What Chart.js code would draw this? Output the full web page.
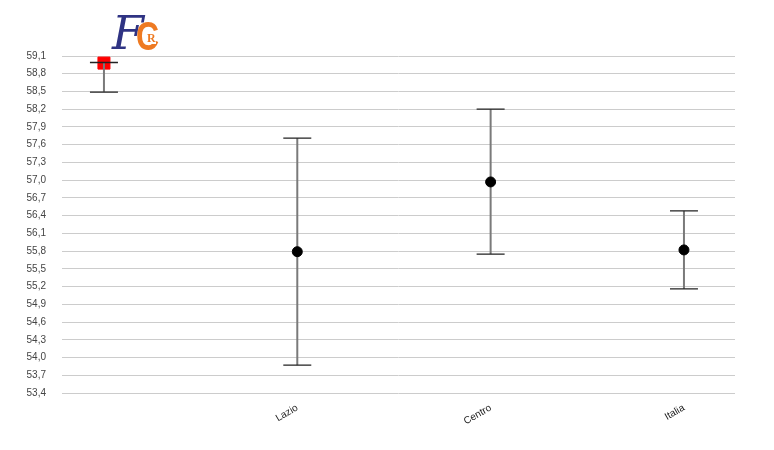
<!DOCTYPE html>
<html>
<head>
<meta charset="utf-8">
<script src="https://cdn.jsdelivr.net/npm/chart.js@4.4.0/dist/chart.umd.min.js"></script>
<style>
  html, body { margin: 0; padding: 0; background: #fff; }
  #wrap { position: relative; width: 774px; height: 450px; }
  #logo { position: absolute; left: 112px; top: 6px; width: 60px; height: 54px; }
  #logo .f { position: absolute; left: 0; top: 0; font: italic 46px "DejaVu Serif", serif; color: #2f3383; line-height: 54px; }
  #logo .c { position: absolute; left: 24px; top: 6px; font: bold 40px "Liberation Sans", sans-serif; color: #ee7a22; line-height: 48px; transform: scaleX(0.8); transform-origin: left top; }
  #logo .r { position: absolute; left: 35px; top: 27px; font: bold 12px "Liberation Serif", serif; color: #ee7a22; background: #fff; line-height: 11px; }
</style>
</head>
<body>
<div id="wrap">
  <canvas id="chart" width="774" height="450"></canvas>
  <div id="logo"><span class="f">F</span><span class="c">C</span><span class="r">R</span></div>
</div>
<script>
// data
const categories = ["", "Lazio", "Centro", "Italia"];
const values = [58.98, 55.79, 56.97, 55.82];
const upper = [58.99, 57.71, 58.20, 56.48];
const lower = [58.49, 53.87, 55.75, 55.16];
const yTicks = [53.4, 53.7, 54.0, 54.3, 54.6, 54.9, 55.2, 55.5, 55.8, 56.1,
  56.4, 56.7, 57.0, 57.3, 57.6, 57.9, 58.2, 58.5, 58.8, 59.1];

document.addEventListener("DOMContentLoaded", function () {
  // error bars, drawn after the square and before the circles
  const errorBars = {
    id: "errorBars",
    afterDatasetDraw(chart, args) {
      if (args.index !== 1) return;
      const ctx = chart.ctx;
      const xs = chart.scales.x;
      const ys = chart.scales.y;
      ctx.save();
      for (let i = 0; i < categories.length; i++) {
        const px = xs.getPixelForValue(i);
        const top = ys.getPixelForValue(upper[i]);
        const bot = ys.getPixelForValue(lower[i]);
        ctx.strokeStyle = "#7a7a7a";
        ctx.lineWidth = 2;
        ctx.beginPath();
        ctx.moveTo(px, top);
        ctx.lineTo(px, bot);
        ctx.stroke();
        ctx.strokeStyle = "#222";
        ctx.lineWidth = 1.3;
        ctx.beginPath();
        ctx.moveTo(px - 14, top);
        ctx.lineTo(px + 14, top);
        ctx.moveTo(px - 14, bot);
        ctx.lineTo(px + 14, bot);
        ctx.stroke();
      }
      ctx.restore();
    },
  };

  const circlePts = [];
  for (let i = 1; i < categories.length; i++) circlePts.push({ x: i, y: values[i] });

  new Chart(document.getElementById("chart"), {
    type: "scatter",
    data: {
      datasets: [
        {
          data: circlePts,
          pointStyle: "circle",
          pointRadius: 5,
          backgroundColor: "#000",
          borderColor: "#000",
        },
        {
          data: [{ x: 0, y: values[0] }],
          pointStyle: "rect",
          pointRadius: 8.5,
          backgroundColor: "#ff0000",
          borderColor: "#ff0000",
        },
      ],
    },
    options: {
      responsive: false,
      animation: false,
      events: [],
      layout: { padding: { top: 56, right: 39, left: 0, bottom: 0 } },
      plugins: { legend: { display: false }, tooltip: { enabled: false } },
      scales: {
        x: {
          type: "linear",
          min: -0.217,
          max: 3.264,
          afterBuildTicks: (s) => { s.ticks = [1, 2, 3].map((v) => ({ value: v })); },
          afterFit: (s) => { s.height = 57; },
          grid: { display: false },
          border: { display: false },
          ticks: {
            autoSkip: false,
            minRotation: 30,
            maxRotation: 30,
            padding: 1,
            color: "#222",
            font: { family: "Liberation Sans", size: 10 },
            callback: (v) => categories[v] ?? "",
          },
        },
        y: {
          min: 53.4,
          max: 59.1,
          afterBuildTicks: (s) => { s.ticks = yTicks.map((v) => ({ value: v })); },
          afterFit: (s) => { s.width = 62; },
          grid: { color: "#cccccc", drawTicks: false },
          border: { display: false },
          ticks: {
            padding: 16,
            color: "#444",
            font: { family: "Liberation Sans", size: 10 },
            callback: (v) => v.toFixed(1).replace(".", ","),
          },
        },
      },
    },
    plugins: [errorBars],
  });
});
</script>
</body>
</html>
